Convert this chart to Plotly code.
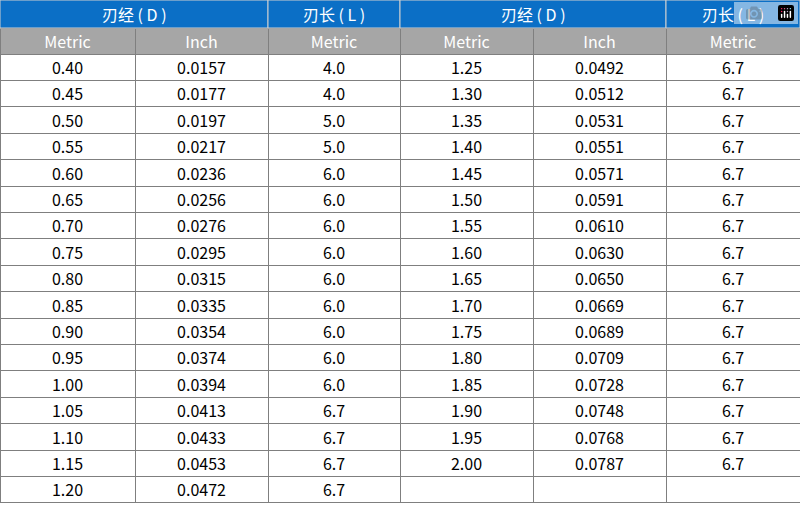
import plotly.graph_objects as go

W, H = 800, 508
d1_metric = ["0.40","0.45","0.50","0.55","0.60","0.65","0.70","0.75","0.80","0.85","0.90","0.95","1.00","1.05","1.10","1.15","1.20"]
d1_inch = ["0.0157","0.0177","0.0197","0.0217","0.0236","0.0256","0.0276","0.0295","0.0315","0.0335","0.0354","0.0374","0.0394","0.0413","0.0433","0.0453","0.0472"]
l1_metric = ["4.0","4.0","5.0","5.0","6.0","6.0","6.0","6.0","6.0","6.0","6.0","6.0","6.0","6.7","6.7","6.7","6.7"]
d2_metric = ["1.25","1.30","1.35","1.40","1.45","1.50","1.55","1.60","1.65","1.70","1.75","1.80","1.85","1.90","1.95","2.00",""]
d2_inch = ["0.0492","0.0512","0.0531","0.0551","0.0571","0.0591","0.0610","0.0630","0.0650","0.0669","0.0689","0.0709","0.0728","0.0748","0.0768","0.0787",""]
l2_metric = ["6.7"]*16 + [""]
sub_headers = ["Metric","Inch","Metric","Metric","Inch","Metric"]
top_headers = ["刃经 ( D )","刃长 ( L )","刃经 ( D )","刃长 ( L )"]

colw = [135,133,132,133,133,134]
edges = [0]
for c in colw: edges.append(edges[-1]+c)
top_h = 28
font = "Noto Sans CJK SC, Open Sans, sans-serif"

fig = go.Figure(go.Table(
    domain=dict(x=[0,1], y=[0, 1-top_h/H]),
    columnwidth=colw,
    header=dict(values=sub_headers, fill_color="#a6a6a6", line=dict(color="#7f7f7f", width=1),
                font=dict(color="white", size=16, family=font), align="center", height=26),
    cells=dict(values=[d1_metric,d1_inch,l1_metric,d2_metric,d2_inch,l2_metric],
               fill_color="white", line=dict(color="#7f7f7f", width=1),
               font=dict(color="black", size=16, family=font), align="center", height=26.4),
))

spans = [(0,2),(2,3),(3,5),(5,6)]
shapes, annos = [], []
for (a,b), t in zip(spans, top_headers):
    x0, x1 = edges[a]/W, edges[b]/W
    shapes.append(dict(type="rect", xref="paper", yref="paper", x0=x0, x1=x1, y0=1-top_h/H, y1=1,
                       fillcolor="#0b6fc6", line=dict(color="#d0d0d0", width=1)))
    annos.append(dict(xref="paper", yref="paper", x=(x0+x1)/2, y=1-top_h/(2*H), text=t, showarrow=False,
                      font=dict(color="white", size=16, family=font), xanchor="center", yanchor="middle"))

fig.update_layout(width=W, height=H, margin=dict(l=0,r=0,t=0,b=0), paper_bgcolor="white",
                  shapes=shapes, annotations=annos)
fig.write_html("out.html", post_script="document.body.style.margin='0';")
